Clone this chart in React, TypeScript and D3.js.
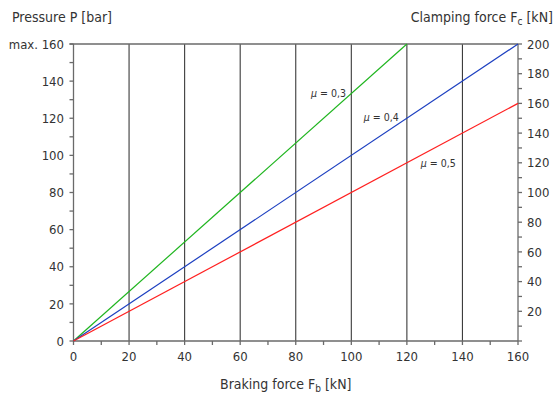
import React from 'react';
import * as d3 from 'd3';

// braking force (kN) on x, clamping force (kN) on right axis, pressure (bar) on left
const brakingTicks = [0, 20, 40, 60, 80, 100, 120, 140, 160];
const pressureTicks = [0, 20, 40, 60, 80, 100, 120, 140, 160];
const clampTicks = [20, 40, 60, 80, 100, 120, 140, 160, 180, 200];
const muNames = ['μ = 0,3', 'μ = 0,4', 'μ = 0,5'];
const muColors = ['#1fb51f', '#1c3fc0', '#ff2020'];
// endpoints [braking kN, clamping kN]
const muLines = [
  [[0, 0], [120, 200]],
  [[0, 0], [160, 200]],
  [[0, 0], [160, 160]],
];
// label anchor [braking kN, clamping kN]
const muLabelPos = [[85.5, 164], [104.5, 148], [125, 117]];

const W = 556;
const H = 394;
const font = '"DejaVu Sans Condensed", "Liberation Sans Narrow", sans-serif';
const txt = '#333';
const axisCol = '#6a6a6a';

export default function App() {
  const x = d3.scaleLinear().domain([0, 160]).range([73.5, 518]);
  const yP = d3.scaleLinear().domain([0, 160]).range([341, 44]);
  const yC = d3.scaleLinear().domain([0, 200]).range([341, 44]);
  const line = d3.line<number[]>().x(d => x(d[0])).y(d => yC(d[1]));

  const minorX = d3.range(0, 161, 10);
  const minorP = d3.range(0, 161, 10);
  const minorC = d3.range(0, 201, 10);

  return (
    <svg width={W} height={H} style={{ position: 'absolute', left: 0, top: 0, background: '#fff' }}
      fontFamily={font}>
      {/* vertical grid */}
      {brakingTicks.slice(1, -1).map(t => (
        <line key={'g' + t} x1={x(t)} x2={x(t)} y1={yP(160)} y2={yP(0)} stroke="#3a3a3a" strokeWidth={1.1} />
      ))}
      {/* top line at max */}
      <line x1={x(0) - 4} x2={x(160)} y1={yP(160)} y2={yP(160)} stroke={axisCol} strokeWidth={1.3} />

      {/* left axis */}
      <line x1={x(0)} x2={x(0)} y1={yP(0)} y2={yP(160)} stroke={axisCol} strokeWidth={1.3} />
      {minorP.map(t => (
        <line key={'lp' + t} x1={x(0) - 4} x2={x(0)} y1={yP(t)} y2={yP(t)} stroke={axisCol} strokeWidth={1.3} />
      ))}
      {pressureTicks.map(t => (
        <text key={'tp' + t} x={64} y={yP(t)} dy="0.36em" textAnchor="end" fontSize={13} fill={txt}>
          {t === 160 ? 'max. 160' : t}
        </text>
      ))}

      {/* right axis */}
      <line x1={x(160)} x2={x(160)} y1={yC(0)} y2={yC(200)} stroke={axisCol} strokeWidth={1.3} />
      {minorC.map(t => (
        <line key={'lc' + t} x1={x(160)} x2={x(160) + 4} y1={yC(t)} y2={yC(t)} stroke={axisCol} strokeWidth={1.3} />
      ))}
      {clampTicks.map(t => (
        <text key={'tc' + t} x={527} y={yC(t)} dy="0.36em" textAnchor="start" fontSize={13} fill={txt}>{t}</text>
      ))}

      {/* bottom axis */}
      <line x1={x(0)} x2={x(160)} y1={yP(0)} y2={yP(0)} stroke={axisCol} strokeWidth={1.3} />
      {minorX.map(t => (
        <line key={'lx' + t} x1={x(t)} x2={x(t)} y1={yP(0)} y2={yP(0) + 4} stroke={axisCol} strokeWidth={1.3} />
      ))}
      {brakingTicks.map(t => (
        <text key={'tx' + t} x={x(t)} y={361} textAnchor="middle" fontSize={13} fill={txt}>{t}</text>
      ))}

      {/* mu lines */}
      {muLines.map((pts, i) => (
        <path key={'m' + i} d={line(pts) || ''} fill="none" stroke={muColors[i]} strokeWidth={1.2} />
      ))}
      {muLabelPos.map((p, i) => (
        <text key={'ml' + i} x={x(p[0])} y={yC(p[1])} fontSize={10.5} fill={txt}>
          <tspan fontStyle="italic">{muNames[i].slice(0, 1)}</tspan>{muNames[i].slice(1)}
        </text>
      ))}

      {/* titles */}
      <text x={12} y={22} fontSize={14} fill={txt}>Pressure P [bar]</text>
      <text x={553} y={22} textAnchor="end" fontSize={14} fill={txt}>
        Clamping force F<tspan fontSize={10} dy={3}>c</tspan><tspan dy={-3}> [kN]</tspan>
      </text>
      <text x={220} y={389} fontSize={14} fill={txt}>
        Braking force F<tspan fontSize={10} dy={3}>b</tspan><tspan dy={-3}> [kN]</tspan>
      </text>
    </svg>
  );
}
